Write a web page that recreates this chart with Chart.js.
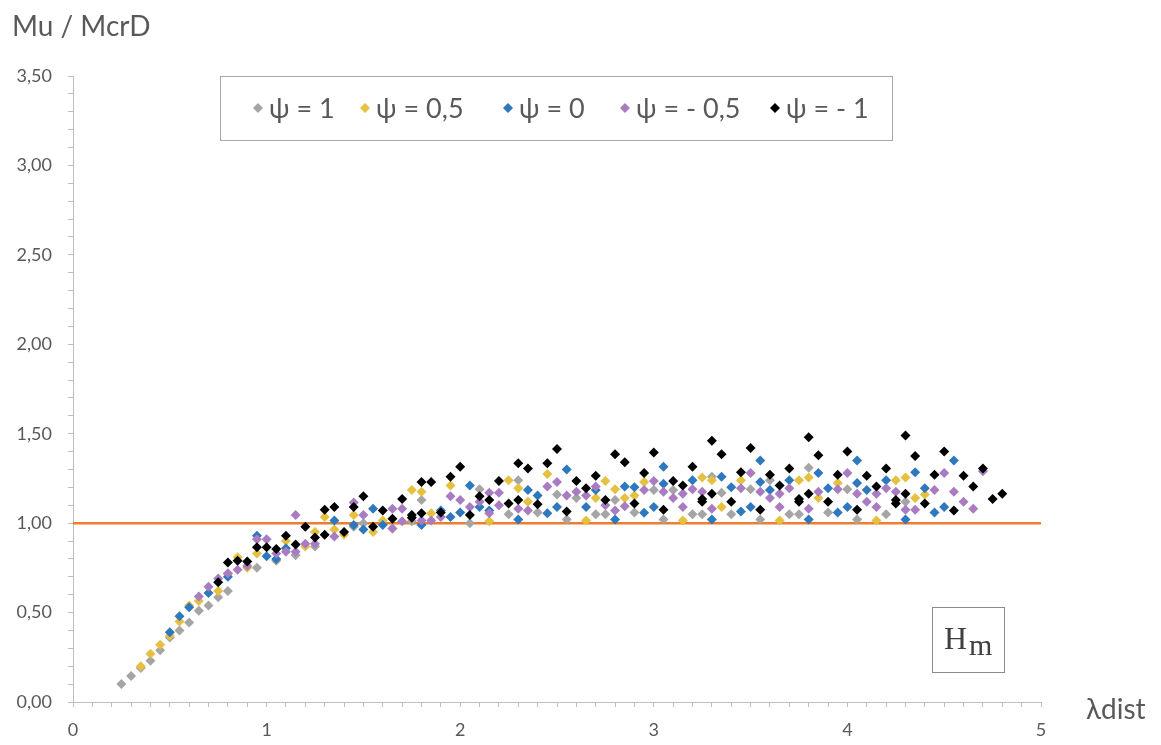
<!DOCTYPE html>
<html>
<head>
<meta charset="utf-8">
<script src="https://cdn.jsdelivr.net/npm/chart.js@4.4.1/dist/chart.umd.min.js"></script>
<style>
  html, body { margin: 0; padding: 0; background: #fff; }
  #wrap { width: 1161px; height: 745px; position: relative; }
</style>
</head>
<body>
<div id="wrap"><canvas id="chart" width="1161" height="745"></canvas></div>
<script>
// ─────────────────────────────────────────────
//  Data  ([λdist, Mu/McrD] pairs)
// ─────────────────────────────────────────────

const seriesLabels = ['ψ = 1', 'ψ = 0,5', 'ψ = 0', 'ψ = - 0,5', 'ψ = - 1'];
const seriesColors = ['#A5A5A5', '#E6C040', '#2E78BE', '#A97CC2', '#000000'];

const psiPlus1 = [
  [0.25,0.10],[0.30,0.145],[0.35,0.19],[0.40,0.23],[0.45,0.29],[0.50,0.36],[0.55,0.40],
  [0.60,0.445],[0.65,0.51],[0.70,0.54],[0.75,0.585],[0.80,0.62],[0.95,0.75],[1.05,0.79],
  [1.15,0.82],[1.25,0.87],[1.45,0.98],[1.50,1.00],[1.75,1.01],[1.80,1.13],[2.05,1.00],
  [2.10,1.19],[2.25,1.05],[2.30,1.24],[2.40,1.06],[2.50,1.16],[2.55,1.02],[2.60,1.14],
  [2.70,1.05],[2.75,1.05],[2.80,1.13],[2.90,1.06],[3.00,1.185],[3.05,1.02],[3.10,1.185],
  [3.20,1.05],[3.25,1.05],[3.30,1.26],[3.35,1.17],[3.40,1.05],[3.50,1.19],[3.55,1.02],
  [3.60,1.24],[3.70,1.05],[3.75,1.05],[3.80,1.31],[3.90,1.06],[4.00,1.19],[4.05,1.02],
  [4.20,1.05],[4.30,1.12]
];

const psiPlus05 = [
  [0.35,0.20],[0.40,0.27],[0.45,0.32],[0.50,0.37],[0.55,0.45],[0.60,0.54],[0.65,0.565],
  [0.75,0.62],[0.80,0.715],[0.85,0.81],[0.90,0.75],[0.95,0.83],[1.10,0.90],[1.20,0.87],
  [1.25,0.95],[1.30,1.035],[1.35,0.965],[1.40,0.935],[1.45,1.045],[1.55,0.95],[1.60,1.015],
  [1.65,0.97],[1.75,1.185],[1.80,1.175],[1.85,1.055],[1.95,1.21],[2.15,1.01],[2.25,1.24],
  [2.30,1.195],[2.35,1.12],[2.45,1.275],[2.65,1.015],[2.70,1.14],[2.75,1.235],[2.80,1.19],
  [2.85,1.14],[2.90,1.155],[2.95,1.23],[3.15,1.015],[3.25,1.255],[3.30,1.24],[3.35,1.09],
  [3.45,1.24],[3.65,1.015],[3.75,1.24],[3.80,1.255],[3.85,1.14],[3.95,1.225],[4.15,1.015],
  [4.25,1.24],[4.30,1.255],[4.35,1.14],[4.40,1.16]
];

const psiZero = [
  [0.50,0.39],[0.55,0.48],[0.60,0.53],[0.70,0.61],[0.80,0.70],[0.95,0.93],[1.00,0.815],
  [1.05,0.80],[1.10,0.86],[1.35,1.015],[1.45,0.99],[1.50,0.965],[1.55,1.08],[1.60,0.99],
  [1.80,0.99],[1.90,1.07],[1.95,1.035],[2.00,1.06],[2.05,1.21],[2.10,1.09],[2.15,1.07],
  [2.30,1.02],[2.35,1.185],[2.40,1.155],[2.45,1.055],[2.50,1.09],[2.55,1.30],[2.65,1.09],
  [2.70,1.185],[2.80,1.02],[2.85,1.205],[2.90,1.20],[2.95,1.058],[3.00,1.09],[3.05,1.315],
  [3.05,1.22],[3.20,1.24],[3.30,1.02],[3.35,1.26],[3.40,1.20],[3.45,1.065],[3.50,1.09],
  [3.55,1.35],[3.55,1.23],[3.60,1.185],[3.70,1.24],[3.80,1.02],[3.85,1.28],[3.90,1.195],
  [3.95,1.06],[4.00,1.09],[4.05,1.35],[4.05,1.225],[4.10,1.185],[4.20,1.24],[4.30,1.02],
  [4.35,1.285],[4.40,1.195],[4.45,1.06],[4.50,1.09],[4.55,1.35]
];

const psiMinus05 = [
  [0.65,0.59],[0.70,0.645],[0.75,0.69],[0.80,0.72],[0.85,0.74],[0.90,0.76],[0.95,0.91],
  [1.00,0.91],[1.05,0.83],[1.10,0.84],[1.15,1.045],[1.15,0.84],[1.20,0.885],[1.25,0.885],
  [1.35,0.925],[1.45,1.115],[1.50,1.045],[1.65,1.08],[1.65,0.97],[1.70,1.08],[1.70,1.01],
  [1.80,1.015],[1.85,1.015],[1.90,1.035],[1.95,1.15],[2.00,1.13],[2.05,1.09],[2.10,1.12],
  [2.15,1.17],[2.15,1.055],[2.20,1.17],[2.20,1.10],[2.30,1.08],[2.35,1.07],[2.45,1.205],
  [2.50,1.23],[2.55,1.155],[2.60,1.175],[2.65,1.155],[2.70,1.205],[2.75,1.10],[2.80,1.07],
  [2.85,1.095],[2.95,1.185],[3.00,1.235],[3.05,1.175],[3.10,1.14],[3.15,1.165],[3.15,1.09],
  [3.20,1.19],[3.25,1.175],[3.30,1.08],[3.45,1.195],[3.50,1.28],[3.55,1.175],[3.60,1.14],
  [3.65,1.165],[3.65,1.09],[3.70,1.195],[3.80,1.08],[3.85,1.175],[3.95,1.19],[4.00,1.28],
  [4.05,1.165],[4.10,1.12],[4.15,1.165],[4.15,1.09],[4.20,1.195],[4.25,1.175],[4.30,1.075],
  [4.35,1.075],[4.45,1.185],[4.50,1.28],[4.55,1.175],[4.60,1.12],[4.65,1.08],[4.70,1.29]
];

const psiMinus1 = [
  [0.75,0.67],[0.80,0.78],[0.85,0.79],[0.90,0.785],[0.95,0.865],[1.00,0.865],[1.05,0.855],
  [1.10,0.93],[1.15,0.88],[1.20,0.98],[1.25,0.92],[1.30,0.935],[1.30,1.075],[1.35,1.09],
  [1.40,0.95],[1.45,1.09],[1.50,1.15],[1.55,0.98],[1.60,1.07],[1.65,1.025],[1.70,1.135],
  [1.75,1.03],[1.75,1.045],[1.80,1.23],[1.80,1.055],[1.85,1.23],[1.90,1.06],[1.95,1.26],
  [2.00,1.315],[2.05,1.045],[2.10,1.15],[2.15,1.13],[2.20,1.235],[2.25,1.11],[2.30,1.335],
  [2.30,1.13],[2.35,1.305],[2.40,1.105],[2.45,1.335],[2.50,1.415],[2.55,1.065],[2.60,1.235],
  [2.65,1.195],[2.70,1.265],[2.75,1.13],[2.80,1.385],[2.85,1.34],[2.90,1.11],[2.95,1.28],
  [3.00,1.395],[3.05,1.075],[3.10,1.235],[3.15,1.21],[3.20,1.315],[3.25,1.135],[3.25,1.12],
  [3.30,1.46],[3.30,1.165],[3.35,1.385],[3.40,1.12],[3.45,1.285],[3.50,1.42],[3.55,1.075],
  [3.60,1.27],[3.65,1.21],[3.70,1.305],[3.75,1.135],[3.75,1.12],[3.80,1.48],[3.80,1.165],
  [3.85,1.38],[3.90,1.12],[3.95,1.27],[4.00,1.40],[4.05,1.075],[4.10,1.265],[4.15,1.205],
  [4.20,1.305],[4.25,1.13],[4.25,1.11],[4.30,1.49],[4.30,1.165],[4.35,1.375],[4.40,1.11],
  [4.45,1.27],[4.50,1.40],[4.55,1.07],[4.60,1.265],[4.65,1.205],[4.70,1.305],[4.75,1.135],
  [4.80,1.165]
];

const allSeries = [psiPlus1, psiPlus05, psiZero, psiMinus05, psiMinus1];

// reference line Mu/McrD = 1
const refLineX = [0, 5];
const refLineY = 1;

const xTickLabels = ['0', '1', '2', '3', '4', '5'];
const yTickLabels = ['0,00', '0,50', '1,00', '1,50', '2,00', '2,50', '3,00', '3,50'];

// ─────────────────────────────────────────────
//  Helpers
// ─────────────────────────────────────────────

const TEXT_GREY = '#595959';
const AXIS_GREY = '#BFBFBF';
const FONT      = 'Lato, "Open Sans", sans-serif';

function isMultiple(v, step) {
  const r = v / step;
  return Math.abs(r - Math.round(r)) < 1e-6;
}

// ─────────────────────────────────────────────
//  Overlay: axis titles, legend box, H_m box
// ─────────────────────────────────────────────

const overlayPlugin = {
  id: 'overlay',
  afterDraw(chart) {
    const c = chart.ctx;
    c.save();
    c.fillStyle = TEXT_GREY;
    c.textBaseline = 'alphabetic';

    // axis titles
    c.font = `28px ${FONT}`;
    c.textAlign = 'left';
    c.fillText('Mu / McrD', 12, 36);
    c.fillText('λdist', 1086, 719);

    // legend box
    c.strokeStyle = '#A6A6A6';
    c.lineWidth = 1;
    c.strokeRect(220.5, 76.5, 672, 64);
    const markerX = [258, 365, 508, 625, 775];
    c.font = `27px ${FONT}`;
    c.textBaseline = 'middle';
    seriesLabels.forEach((lab, i) => {
      const mx = markerX[i], my = 108;
      c.fillStyle = seriesColors[i];
      c.beginPath();
      c.moveTo(mx, my - 5); c.lineTo(mx + 5, my); c.lineTo(mx, my + 5); c.lineTo(mx - 5, my);
      c.closePath();
      c.fill();
      c.fillStyle = TEXT_GREY;
      c.fillText(lab, mx + 11, my + 1);
    });

    // H_m box
    c.strokeStyle = '#8C8C8C';
    c.strokeRect(932.5, 607.5, 72, 65);
    c.fillStyle = '#404040';
    c.textBaseline = 'alphabetic';
    c.font = '32px "Liberation Serif", "DejaVu Serif", serif';
    c.fillText('H', 944, 649);
    c.font = '30px "Liberation Serif", "DejaVu Serif", serif';
    c.fillText('m', 969, 655);
    c.restore();
  }
};

// ─────────────────────────────────────────────
//  Chart
// ─────────────────────────────────────────────

const pointSets = allSeries.map((s, i) => ({
  label: seriesLabels[i],
  data: s.map(([x, y]) => ({ x, y })),
  pointStyle: 'rectRot',
  pointRadius: 5,
  pointHoverRadius: 5,
  pointBorderWidth: 0,
  backgroundColor: seriesColors[i],
  borderColor: seriesColors[i],
  order: allSeries.length - i,
}));

const refSet = {
  label: 'ref',
  data: refLineX.map(x => ({ x, y: refLineY })),
  showLine: true,
  borderColor: '#ED7D31',
  borderWidth: 2.5,
  pointRadius: 0,
  order: 10,
};

new Chart(document.getElementById('chart'), {
  type: 'scatter',
  data: { datasets: [...pointSets, refSet] },
  options: {
    responsive: false,
    animation: false,
    layout: { padding: { top: 76, right: 120, bottom: 0, left: 0 } },
    plugins: {
      legend:  { display: false },
      tooltip: { enabled: false },
    },
    scales: {
      x: {
        type: 'linear',
        min: 0, max: 5,
        afterFit: s => { s.height = 43; },
        grid:   { drawOnChartArea: false, drawTicks: true, tickLength: 5, color: AXIS_GREY },
        border: { color: AXIS_GREY, width: 1 },
        ticks: {
          stepSize: 0.1,
          autoSkip: false,
          maxRotation: 0,
          padding: 12,
          color: TEXT_GREY,
          font: { size: 18, family: FONT },
          callback: v => isMultiple(v, 1) ? xTickLabels[Math.round(v)] : '',
        },
      },
      y: {
        type: 'linear',
        min: 0, max: 3.5,
        afterFit: s => { s.width = 73; },
        grid:   { drawOnChartArea: false, drawTicks: true, tickLength: 5, color: AXIS_GREY },
        border: { color: AXIS_GREY, width: 1 },
        ticks: {
          stepSize: 0.1,
          autoSkip: false,
          padding: 16,
          color: TEXT_GREY,
          font: { size: 18, family: FONT },
          callback: v => isMultiple(v, 0.5) ? yTickLabels[Math.round(v / 0.5)] : '',
        },
      },
    },
  },
  plugins: [overlayPlugin],
});
</script>
</body>
</html>
